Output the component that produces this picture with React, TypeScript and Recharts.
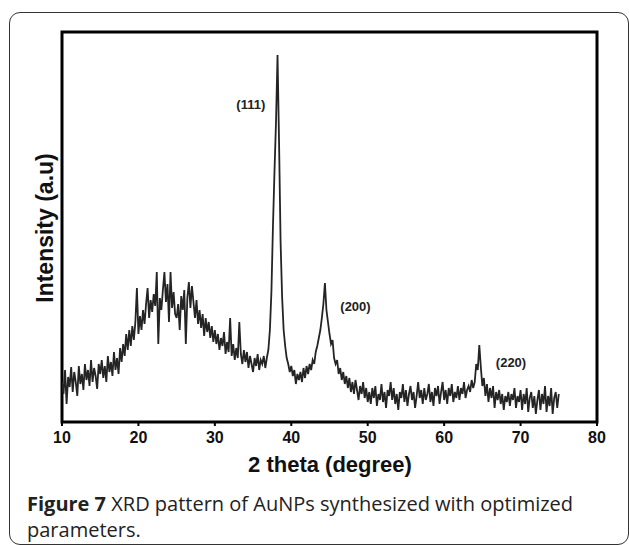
import React from "react";
import { LineChart, Line, XAxis, YAxis, ReferenceArea, ReferenceDot } from "recharts";

// 2θ sampling grid of the scan (degrees)
const START_2THETA = 10;
const STEP_2THETA = 0.2;

// Intensity (a.u.), one value per 0.2° from 10° to 75°
const int10to15 = [40, 28, 52, 18, 45, 35, 55, 30, 50, 40, 26, 56, 38, 48, 32, 58, 42, 52, 36, 62, 40, 54, 46, 33, 58, 48];
const int15to20 = [62, 44, 56, 40, 66, 50, 60, 46, 70, 52, 64, 48, 74, 60, 78, 66, 88, 72, 92, 76, 96, 82, 100, 134, 88];
const int20to25 = [106, 92, 112, 98, 118, 134, 104, 122, 110, 128, 116, 150, 78, 124, 112, 132, 150, 120, 138, 100, 150, 114, 130, 108, 104];
const int25to30 = [118, 92, 126, 112, 132, 78, 124, 140, 114, 136, 120, 104, 122, 98, 112, 94, 108, 86, 104, 90, 100, 84, 96, 80, 92];
const int30to35 = [78, 88, 72, 84, 76, 90, 68, 80, 70, 104, 66, 78, 62, 74, 64, 100, 68, 58, 72, 60, 70, 54, 66, 58, 50];
const int35to40 = [64, 56, 68, 52, 62, 58, 66, 54, 64, 72, 92, 130, 195, 250, 300, 367, 280, 180, 125, 92, 76, 64, 58, 50, 56];
const int40to45 = [46, 52, 38, 48, 42, 50, 40, 54, 44, 56, 48, 58, 52, 62, 58, 70, 76, 84, 92, 104, 118, 139, 112, 100, 88];
const int45to50 = [78, 82, 64, 58, 62, 48, 54, 42, 50, 38, 46, 34, 44, 30, 40, 28, 42, 32, 22, 36, 28, 40, 24, 34, 20];
const int50to55 = [30, 18, 34, 24, 36, 16, 28, 22, 38, 20, 30, 14, 32, 26, 40, 22, 34, 18, 28, 12, 30, 24, 38, 20, 32];
const int55to60 = [16, 28, 36, 22, 30, 14, 26, 40, 24, 32, 18, 34, 22, 28, 38, 20, 30, 16, 34, 26, 36, 18, 30, 40, 22];
const int60to65 = [32, 18, 34, 26, 38, 20, 30, 24, 36, 22, 34, 28, 40, 24, 32, 36, 30, 42, 34, 40, 58, 52, 77, 55, 36];
const int65to70 = [44, 26, 38, 20, 34, 24, 36, 14, 30, 22, 32, 18, 28, 12, 26, 20, 30, 16, 28, 22, 34, 14, 26, 20, 32];
const int70to75 = [12, 28, 18, 34, 10, 24, 30, 14, 26, 8, 22, 32, 12, 28, 18, 36, 10, 26, 16, 34, 8, 24, 30, 14, 28];

const intensities = [
  ...int10to15, ...int15to20, ...int20to25, ...int25to30, ...int30to35, ...int35to40, ...int40to45,
  ...int45to50, ...int50to55, ...int55to60, ...int60to65, ...int65to70, ...int70to75,
];

const xTicks = [10, 20, 30, 40, 50, 60, 70, 80];

// Miller-index annotations (2θ, intensity)
const peakLabelText = ["(111)", "(200)", "(220)"];
const peakLabelX = [34.7, 48.4, 68.75];
const peakLabelY = [318, 116, 60];

const data = intensities.map((v, i) => ({
  x: Math.round((START_2THETA + i * STEP_2THETA) * 10) / 10,
  y: v,
}));

const AXIS_FONT = "'Liberation Sans', Arial, sans-serif";

export default function App() {
  return (
    <div style={{ position: "absolute", left: 0, top: 0, width: 629, height: 545, background: "#fff", overflow: "hidden" }}>
      <div
        style={{
          position: "absolute",
          left: 9,
          top: 12,
          width: 620,
          height: 533,
          border: "1.5px solid #333",
          borderRadius: 11,
          boxSizing: "border-box",
        }}
      />
      <div style={{ position: "absolute", left: 0, top: 0 }}>
        <LineChart width={629} height={545} data={data} margin={{ top: 32, right: 32, bottom: 93, left: 62 }}>
          <XAxis
            dataKey="x"
            type="number"
            domain={[10, 80]}
            ticks={xTicks}
            allowDataOverflow
            axisLine={false}
            tickLine={{ stroke: "#000", strokeWidth: 2 }}
            tickSize={4}
            tickMargin={6}
            height={30}
            tick={{ fill: "#111", fontSize: 16, fontWeight: 700, fontFamily: AXIS_FONT }}
          />
          <YAxis type="number" domain={[0, 390]} hide allowDataOverflow />
          <ReferenceArea
            x1={10}
            x2={80}
            y1={0}
            y2={390}
            fill="none"
            fillOpacity={0}
            stroke="#000"
            strokeWidth={3}
            ifOverflow="visible"
          />
          <Line
            type="linear"
            dataKey="y"
            stroke="#242424"
            strokeWidth={1.8}
            dot={false}
            isAnimationActive={false}
          />
          {peakLabelText.map((t, i) => (
            <ReferenceDot
              key={t}
              x={peakLabelX[i]}
              y={peakLabelY[i]}
              r={0}
              fill="none"
              stroke="none"
              ifOverflow="visible"
              label={{
                value: t,
                position: "center",
                fill: "#222",
                fontSize: 13,
                fontWeight: 700,
                fontFamily: AXIS_FONT,
              }}
            />
          ))}
        </LineChart>
      </div>
      <div
        style={{
          position: "absolute",
          left: 45,
          top: 228,
          transform: "translate(-50%, -50%) rotate(-90deg)",
          whiteSpace: "nowrap",
          fontFamily: AXIS_FONT,
          fontWeight: 700,
          fontSize: 23,
          color: "#111",
        }}
      >
        Intensity (a.u)
      </div>
      <div
        style={{
          position: "absolute",
          left: 330,
          top: 465,
          transform: "translate(-50%, -50%)",
          whiteSpace: "nowrap",
          fontFamily: AXIS_FONT,
          fontWeight: 700,
          fontSize: 22,
          color: "#111",
        }}
      >
        2 theta (degree)
      </div>
      <div
        style={{
          position: "absolute",
          left: 27,
          top: 491,
          width: 595,
          fontFamily: "'Open Sans', sans-serif",
          fontSize: 20,
          lineHeight: "26px",
          color: "#222",
          whiteSpace: "nowrap",
        }}
      >
        <span style={{ fontWeight: 700 }}>Figure 7</span> XRD pattern of AuNPs synthesized with optimized
        <br />
        parameters.
      </div>
    </div>
  );
}
